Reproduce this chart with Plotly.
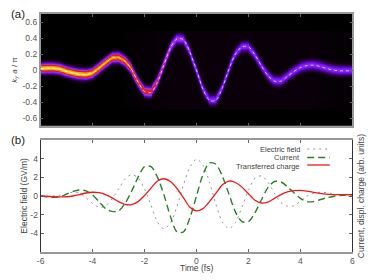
import numpy as np
import plotly.graph_objects as go

time_fs = [-6 + 0.25 * i for i in range(49)]
electric_field = [0, 0, .02, .08, .25, .4, .3, -.2, -.8, -1.2, -1.05, -.3, .75, 1.8, 2.3, 1.95, .75, -1.0, -2.8, -3.5, -2.9, -1.1, 1.2, 3.1, 3.95, 3.3, 1.5, -.9, -2.8, -3.5, -2.85, -1.2, .6, 1.9, 2.15, 1.5, .3, -.7, -1.1, -1.05, -.55, 0, .3, .4, .35, .2, .1, .03, 0]
current = [0, -.1, -.15, -.05, .2, .5, .65, .55, .1, -.6, -1.35, -1.65, -1.6, -.8, .5, 2, 3.15, 3.15, 2, .1, -2.2, -3.85, -3.85, -2.3, 0, 2.3, 3.55, 3.4, 2.1, .2, -1.7, -2.75, -2.75, -1.8, -.4, .9, 1.55, 1.5, 1, .35, -.25, -.6, -.6, -.4, -.2, -.05, .05, .1, .1]
charge = [0, -.03, -.08, -.1, -.08, 0, .15, .32, .4, .35, .15, -.2, -.6, -.9, -.93, -.6, .05, .85, 1.6, 1.85, 1.55, .8, -.2, -1.2, -1.6, -1.35, -.6, .3, 1.2, 1.6, 1.45, .95, .25, -.45, -.75, -.65, -.25, .15, .45, .58, .6, .52, .4, .28, .2, .15, .14, .15, .15]
k_center = [.015, .02, .02, .01, -.02, -.04, -.055, -.06, -.04, .02, .09, .15, .155, .11, .01, -.15, -.27, -.28, -.15, .07, .28, .39, .38, .22, 0, -.24, -.38, -.38, -.22, .01, .2, .29, .29, .19, .05, -.07, -.14, -.14, -.08, -.02, .03, .055, .06, .045, .02, 0, -.01, -.01, -.01]
population = [1, 1, 1, 1, 1, 1, 1, .98, .95, .92, .9, .88, .86, .84, .8, .74, .7, .66, .6, .52, .44, .38, .35, .33, .32, .31, .3, .3, .3, .3, .3, .3, .3, .3, .3, .3, .3, .3, .3, .3, .3, .3, .3, .3, .3, .3, .3, .3, .3]
residual = [0, 0, 0, 0, 0, 0, 0, 0, 0, 0, 0, 0, .001, .002, .003, .004, .005, .006, .007, .008, .009, .009, .009, .009, .009, .009, .009, .009, .009, .009, .009, .009, .009, .009, .009, .009, .009, .009, .009, .009, .009, .009, .009, .008, .007, .006, .005, .004, .003]

k_ticks = [0.6, 0.4, 0.2, 0, -0.2, -0.4, -0.6]
k_labels = ["0.6", "0.4", "0.2", "0", "-0.2", "-0.4", "-0.6"]
field_ticks = [4, 2, 0, -2, -4]
field_labels = ["4", "2", "0", "-2", "-4"]
time_ticks = [-6, -4, -2, 0, 2, 4, 6]
time_labels = ["-6", "-4", "-2", "0", "2", "4", "6"]

# Occupation map in the (time, k) plane, built from the traced curve above
grid_t = np.linspace(-6, 6, 640)
grid_k = np.linspace(-0.7, 0.7, 281)
centre = np.interp(grid_t, time_fs, k_center)
peak = np.interp(grid_t, time_fs, population)
floor = np.interp(grid_t, time_fs, residual)
dist = grid_k[:, None] - centre[None, :]
dist = (dist + 0.49) % 0.98 - 0.49
occupation = peak * np.exp(-(np.abs(dist) / 0.05) ** 2) + floor
occupation[np.abs(grid_k) > 0.49, :] = 0

palette = [[0, "#000000"], [0.02, "#140014"], [0.08, "#38006a"], [0.18, "#6208d0"],
           [0.3, "#8424ff"], [0.42, "#b030d0"], [0.55, "#d01850"], [0.66, "#e02010"],
           [0.8, "#f07800"], [0.92, "#f8b000"], [1, "#ffe050"]]

fig = go.Figure()
fig.add_trace(go.Heatmap(x=grid_t, y=grid_k, z=occupation, zmin=0, zmax=1, colorscale=palette,
                         showscale=False, xaxis="x", yaxis="y", hoverinfo="skip"))
fig.add_trace(go.Scatter(x=time_fs, y=k_center, mode="lines", name="k",
                         line=dict(color="#ffffff", width=0.7, dash="3px,3px", shape="spline", smoothing=0.8),
                         xaxis="x", yaxis="y", showlegend=False))
fig.add_trace(go.Scatter(x=time_fs, y=electric_field, mode="lines", name="Electric field",
                         line=dict(color="#777777", width=0.8, dash="2px,4px", shape="spline", smoothing=0.8),
                         xaxis="x2", yaxis="y2", showlegend=False))
fig.add_trace(go.Scatter(x=time_fs, y=current, mode="lines", name="Current",
                         line=dict(color="#2a7f2a", width=1.4, dash="7px,4px", shape="spline", smoothing=0.8),
                         xaxis="x2", yaxis="y2", showlegend=False))
fig.add_trace(go.Scatter(x=time_fs, y=charge, mode="lines", name="Transferred charge",
                         line=dict(color="#f01818", width=1.3, shape="spline", smoothing=0.8),
                         xaxis="x2", yaxis="y2", showlegend=False))

W, H = 374, 280
font = dict(family="Liberation Sans", size=8.5, color="#555555")
x_dom = [37.3 / W, 355 / W]
common = dict(showgrid=False, zeroline=False, mirror="allticks", ticks="inside", ticklen=3,
              tickcolor="#666666", tickwidth=1, tickfont=font, linecolor="#999999", linewidth=1.5)

fig.update_layout(
    width=W, height=H, autosize=False, margin=dict(l=0, r=0, t=0, b=0),
    paper_bgcolor="#ffffff", plot_bgcolor="#ffffff", showlegend=False, font=font,
    xaxis=dict(common, domain=x_dom, range=[-6, 6], tickvals=time_ticks, showticklabels=False, anchor="y"),
    yaxis=dict(common, domain=[(H - 126) / H, (H - 14) / H], range=[-0.7, 0.7], tickvals=k_ticks,
               ticktext=k_labels, anchor="x"),
    xaxis2=dict(common, domain=x_dom, range=[-6, 6], tickvals=time_ticks, ticktext=time_labels, anchor="y2"),
    yaxis2=dict(common, domain=[(H - 252) / H, (H - 140) / H], range=[-6, 6], tickvals=field_ticks,
                ticktext=field_labels, anchor="x2", linecolor="#333333", linewidth=1),
)

def note(text, x, y, size=8.5, angle=0, anchor="center", color="#444444"):
    fig.add_annotation(text=text, x=x / W, y=1 - y / H, xref="paper", yref="paper", showarrow=False,
                       xanchor=anchor, yanchor="middle", textangle=angle,
                       font=dict(family="Liberation Sans", size=size, color=color))

note("(a)", 14, 14, size=11.5, color="#222222")
note("(b)", 14, 140, size=11.5, color="#222222")
note("<i>k<sub>y</sub> a</i> / π", 11, 70, size=8, angle=-90)
note("Electric field (GV/m)", 20, 196, size=8.5, angle=-90)
note("Current, displ. charge (arb. units)", 364, 196, angle=-90)
note("Time (fs)", 196, 268)
note("Electric field", 304, 149, size=7.5, anchor="right")
note("Current", 304, 157.5, size=7.5, anchor="right")
note("Transferred charge", 304, 166, size=7.5, anchor="right")

samples = [(149, "#777777", 0.8, "2px,4px"), (157.5, "#2a7f2a", 1.4, "7px,4px"), (165, "#f01818", 1.3, "solid")]
for yy, col, wid, dsh in samples:
    fig.add_shape(type="line", xref="paper", yref="paper", x0=309 / W, x1=332 / W, y0=1 - yy / H, y1=1 - yy / H,
                  line=dict(color=col, width=wid, dash=dsh))

fig.write_html("out.html", config=dict(displayModeBar=False), post_script="document.body.style.margin='0';")
